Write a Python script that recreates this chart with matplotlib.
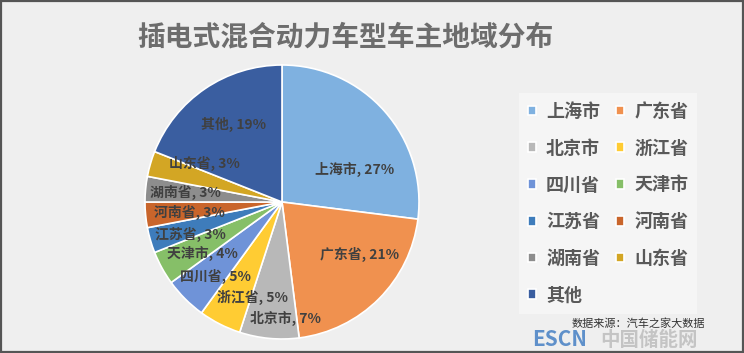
import numpy as np
import matplotlib
matplotlib.use("Agg")
import matplotlib.pyplot as plt
from matplotlib.patches import Rectangle

plt.rcParams['font.family'] = ['Noto Sans CJK SC', 'DejaVu Sans']

# data
regions = ['上海市', '广东省', '北京市', '浙江省', '四川省', '天津市',
           '江苏省', '河南省', '湖南省', '山东省', '其他']
shares = [27, 21, 7, 5, 5, 4, 3, 3, 3, 3, 19]
colors = ['#7fb1e0', '#f0914f', '#b8b8b8', '#ffcc33', '#6f93d8', '#86bf68',
          '#3e7cbb', '#c9652b', '#8d8d8d', '#d3a624', '#3a5ea0']

# label placement (fraction of radius, angle nudge in degrees)
lab_dist = [0.58, 0.68, 0.85, 0.73, 0.73, 0.69, 0.71, 0.68, 0.71, 0.63, 0.67]
lab_nudge = [-17, 11, 7, 10, 3, 4, 3, 1, 0, -10, -2]

W, H = 744, 353
fig = plt.figure(figsize=(W / 100, H / 100), dpi=100)
fig.patch.set_facecolor('#efefef')

# outer frame
fig.patches.append(Rectangle((0.002, 0.003), 0.996, 0.994, transform=fig.transFigure,
                             fill=False, edgecolor='#555555', linewidth=1.6))

cx, cy, r = 282, 151, 137
ax = fig.add_axes([(cx - r) / W, (cy - r) / H, 2 * r / W, 2 * r / H])
wedges, _ = ax.pie(shares, colors=colors, startangle=90, counterclock=False,
                   radius=1, wedgeprops=dict(edgecolor='white', linewidth=1.2))
ax.set_xlim(-1, 1)
ax.set_ylim(-1, 1)
ax.set_aspect('equal')
ax.axis('off')

for w, name, s, d, n in zip(wedges, regions, shares, lab_dist, lab_nudge):
    ang = np.deg2rad((w.theta1 + w.theta2) / 2 + n)
    ax.text(d * np.cos(ang), d * np.sin(ang), f'{name}, {s}%', ha='center', va='center',
            fontsize=10, fontweight='bold', color='#404040')

fig.text(345 / W, 1 - 37 / H, '插电式混合动力车型车主地域分布', ha='center', va='center',
         fontsize=20, fontweight='bold', color='#6d6d6d')

# legend is filled column-wise, so reorder to read row-wise like the reference
order = [0, 2, 4, 6, 8, 10, 1, 3, 5, 7, 9]
leg = fig.legend([wedges[i] for i in order], [regions[i] for i in order], ncol=2,
                 loc='upper left', bbox_to_anchor=(510 / W, 1 - 84 / H), frameon=True,
                 prop=dict(size=13, weight='bold'), labelcolor='#595959',
                 handlelength=0.45, handleheight=0.45, handletextpad=0.55,
                 columnspacing=0.9, labelspacing=0.98, borderpad=0.5)
leg.get_frame().set_facecolor('#f7f7f7')
leg.get_frame().set_edgecolor('none')
leg.get_frame().set_boxstyle('square', pad=0)

# watermark and source
fig.text(572 / W, 1 - 324 / H, '数据来源：汽车之家大数据', ha='left', va='center',
         fontsize=8, color='#333333')
fig.text(532 / W, 1 - 340 / H, 'ESCN', ha='left', va='center', fontsize=15,
         fontweight='bold', color='#4f86c6', alpha=0.9)
fig.text(600 / W, 1 - 340 / H, '中国储能网', ha='left', va='center', fontsize=14,
         fontweight='bold', color='#9a9a9a', alpha=0.5)

fig.savefig('out.png', dpi=100, facecolor=fig.get_facecolor())
